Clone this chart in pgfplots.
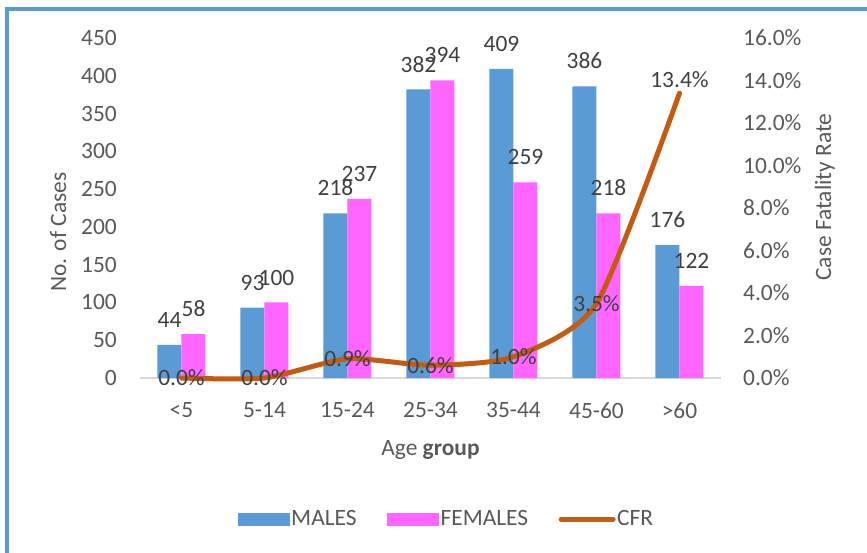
\documentclass[border=0pt]{standalone}
\usepackage{fontspec}
\setmainfont{Carlito}
\usepackage{pgfplots}
\pgfplotsset{compat=1.18}
\definecolor{males}{HTML}{5B9BD5}
\definecolor{females}{HTML}{FF66FF}
\definecolor{cfr}{HTML}{C55A11}
\definecolor{txt}{HTML}{595959}
\definecolor{lbl}{HTML}{404040}
\definecolor{frm}{HTML}{5B9BD5}
\definecolor{axl}{HTML}{D9D9D9}
\newcommand\fsz{\fontsize{23.5}{28}\selectfont}
\pgfplotsset{/pgf/number format/assume math mode=true}
\begin{document}
\begin{tikzpicture}
\path[use as bounding box] (-140bp,-175bp) rectangle (727bp,378bp);
\draw[frm, line width=4bp] (-132.5bp,-190bp) -- (-132.5bp,369bp) -- (740bp,369bp);
\begin{axis}[
  at={(0bp,0bp)}, anchor=south west, scale only axis,
  width=581bp, height=340bp,
  xmin=-0.5, xmax=6.5, ymin=0, ymax=450,
  ytick={0,50,...,450},
  xtick={0,...,6},
  xticklabels={{<5},{5-14},{15-24},{25-34},{35-44},{45-60},{>60}},
  axis x line*=bottom, axis y line*=left,
  x axis line style={-, draw=axl, line width=1.7bp},
  y axis line style={-, draw=none},
  tick style={draw=none}, major tick length=0pt,
  tick label style={font=\fsz, text=txt},
  yticklabel style={anchor=east, inner sep=0pt, xshift=-23bp},
  xticklabel style={anchor=north, inner sep=0pt, yshift=-24bp},
  ylabel={No. of Cases},
  xlabel={Age \textbf{group}},
  label style={font=\fsz, text=txt},
  ylabel style={at={(axis description cs:-0.141,0.429)}, anchor=center},
  xlabel style={at={(axis description cs:0.5,-0.212)}, anchor=center},
  clip=false,
  legend columns=3,
  legend style={draw=none, font=\fsz, text=txt, at={(axis description cs:0.527,-0.415)}, anchor=center,
     nodes={inner sep=1.5bp}, /tikz/every even column/.append style={column sep=29bp}},
  legend cell align=left,
]
\addplot[ybar, bar width=24bp, bar shift=-12bp, fill=males, draw=none, nodes near coords,
  nodes near coords style={font=\fsz, text=lbl, inner sep=0pt, anchor=south, yshift=17bp, xshift=-12bp},
  legend image code/.code={\fill[males] (0bp,-6.5bp) rectangle (52bp,6.5bp);}]
  coordinates {(0,44) (1,93) (2,218) (3,382) (4,409) (5,386) (6,176)};
\addlegendentry{MALES}
\addplot[ybar, bar width=24bp, bar shift=12bp, fill=females, draw=none, nodes near coords,
  nodes near coords style={font=\fsz, text=lbl, inner sep=0pt, anchor=south, yshift=17bp, xshift=12bp},
  legend image code/.code={\fill[females] (0bp,-6.5bp) rectangle (52bp,6.5bp);}]
  coordinates {(0,58) (1,100) (2,237) (3,394) (4,259) (5,218) (6,122)};
\addlegendentry{FEMALES}
\addlegendimage{legend image code/.code={\draw[cfr, line width=5bp, line cap=round] (0bp,0bp) -- (52bp,0bp);}}
\addlegendentry{CFR}
\end{axis}
\begin{axis}[
  at={(0bp,0bp)}, anchor=south west, scale only axis,
  width=581bp, height=340bp,
  xmin=-0.5, xmax=6.5, ymin=0, ymax=16,
  ytick={0,2,...,16},
  axis x line=none, axis y line*=right,
  y axis line style={-, draw=none},
  tick style={draw=none}, major tick length=0pt,
  tick label style={font=\fsz, text=txt},
  yticklabel={\pgfmathprintnumber[fixed,fixed zerofill,precision=1]{\tick}\%},
  yticklabel style={anchor=west, inner sep=0pt, xshift=22bp},
  ylabel={Case Fatality Rate},
  label style={font=\fsz, text=txt},
  ylabel style={at={(axis description cs:1.179,0.532)}, anchor=center},
  clip=false,
]
\addplot[cfr, line width=5bp, smooth, tension=0.4, mark=none, line cap=round]
  coordinates {(0,0) (1,0) (2,0.9) (3,0.6) (4,1.0) (5,3.5) (6,13.4)};
\addplot[draw=none, mark=none, point meta=y,
  nodes near coords={\pgfmathprintnumber[fixed,fixed zerofill,precision=1]{\pgfplotspointmeta}\%},
  nodes near coords style={font=\fsz, text=lbl, inner sep=0pt, anchor=center}]
  coordinates {(0,0) (1,0) (2,0.9) (3,0.6) (4,1.0) (5,3.5)};
\addplot[draw=none, mark=none, point meta=y,
  nodes near coords={\pgfmathprintnumber[fixed,fixed zerofill,precision=1]{\pgfplotspointmeta}\%},
  nodes near coords style={font=\fsz, text=lbl, inner sep=0pt, anchor=south, yshift=5bp}]
  coordinates {(6,13.4)};
\end{axis}
\end{tikzpicture}
\end{document}
